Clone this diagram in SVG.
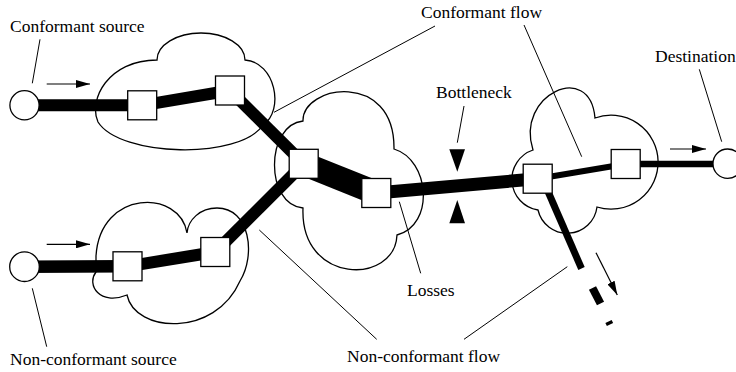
<svg xmlns="http://www.w3.org/2000/svg" width="736" height="372" viewBox="0 0 736 372">
<defs>
<style>
.cloud{fill:none;stroke:#000;stroke-width:1.3}
.box{fill:#fff;stroke:#000;stroke-width:1.3}
.src{fill:#fff;stroke:#000;stroke-width:1.3}
.flow{stroke:#000;fill:none;stroke-linecap:butt}
.lead{stroke:#000;stroke-width:1;fill:none}
.arr{stroke:#000;stroke-width:1.2;fill:none;marker-end:url(#ah)}
text{font-family:"Liberation Serif","Times New Roman",serif;font-size:17.5px;fill:#000}
</style>
<marker id="ah" markerWidth="14" markerHeight="8" refX="14" refY="4" orient="auto" markerUnits="userSpaceOnUse">
<path d="M0,0 L14,4 L0,8 Z" fill="#000"/>
</marker>
</defs>
<rect width="736" height="372" fill="#fff"/>
<g id="clouds">
<path id="cloud1" class="cloud" d="M98,122 C88,100 108,60 157,60 A44 27 0 0 1 245,60 C275,62 285,110 263,125 C240,160 120,157 98,122 Z"/>
<path id="cloud2" class="cloud" d="M96,272 C86,285 100,306 127,295 C135,333 215,338 240,281 C256,255 250,208 217,208 C200,208 188,220 187,233 C180,189 100,189 96,256 Z"/>
<path id="cloud3" class="cloud" d="M303,121 C302,85 395,70 394,149 C430,160 435,225 397,235 C395,285 300,285 303,208 C265,205 265,125 303,121 Z"/>
<path id="cloud4" class="cloud" d="M533,150 C515,95 590,60 595,118 A47 47 0 1 1 597,207 A30 30 0 0 1 538,210 A31 31 0 0 1 533,150 Z"/>
</g>
<g id="connectors">
<line class="flow" x1="24.5" y1="105.3" x2="142" y2="105.3" stroke-width="12"/>
<line class="flow" x1="142" y1="105.3" x2="230" y2="90.5" stroke-width="12"/>
<line class="flow" x1="230" y1="90.5" x2="303.7" y2="163.8" stroke-width="12"/>
<line class="flow" x1="24.5" y1="266.7" x2="127.5" y2="266.3" stroke-width="12.5"/>
<line class="flow" x1="127.5" y1="266.3" x2="215.3" y2="252" stroke-width="12"/>
<line class="flow" x1="215.3" y1="252" x2="303.7" y2="163.8" stroke-width="12"/>
<line class="flow" x1="303.7" y1="163.8" x2="376.3" y2="193" stroke-width="24"/>
<line class="flow" x1="376.3" y1="193" x2="537.7" y2="178.7" stroke-width="13"/>
<line class="flow" x1="537.7" y1="178.7" x2="625.7" y2="164" stroke-width="6"/>
<line class="flow" x1="625.7" y1="164" x2="713" y2="164" stroke-width="6.5"/>
<line class="flow" x1="543" y1="180" x2="581.5" y2="268.5" stroke-width="7"/>
<line class="flow" x1="592.5" y1="288" x2="600.5" y2="303.5" stroke-width="8"/>
<line class="flow" x1="608.5" y1="321.5" x2="610" y2="324.5" stroke-width="7"/>
<line class="arr" x1="46.7" y1="84" x2="90" y2="84"/>
<line class="arr" x1="46.7" y1="244.3" x2="90" y2="244.3"/>
<line class="arr" x1="670" y1="149" x2="706" y2="149"/>
<line class="arr" x1="596" y1="252.7" x2="617.3" y2="295"/>
<line class="lead" x1="40" y1="39.3" x2="32.3" y2="83.3"/>
<line class="lead" x1="32.3" y1="288.3" x2="46.7" y2="346.7"/>
<line class="lead" x1="435" y1="26" x2="274" y2="112.3"/>
<line class="lead" x1="524" y1="25" x2="581.7" y2="156.7"/>
<line class="lead" x1="464" y1="106" x2="457.3" y2="142.7"/>
<line class="lead" x1="699.3" y1="69.3" x2="721.7" y2="141.7"/>
<line class="lead" x1="399.3" y1="201.7" x2="420.7" y2="273.3"/>
<line class="lead" x1="259.3" y1="230" x2="376.7" y2="339.3"/>
<line class="lead" x1="567.3" y1="266.7" x2="464" y2="339.3"/>
</g>
<g id="bottleneck">
<path d="M449.3,149.3 L465,149.3 L457.3,171.7 Z" fill="#000"/>
<path d="M449.3,223.3 L465,223.3 L457.3,200 Z" fill="#000"/>
</g>
<g id="src-conformant"><circle class="src" cx="24.5" cy="105.3" r="14.6"/></g>
<g id="src-nonconformant"><circle class="src" cx="24.5" cy="266.7" r="14.8"/></g>
<g id="destination"><circle class="src" cx="727.7" cy="163.7" r="14.7"/></g>
<g id="r1"><rect class="box" x="127.7" y="90.8" width="29" height="29"/></g>
<g id="r2"><rect class="box" x="215.5" y="76" width="29" height="29"/></g>
<g id="r3"><rect class="box" x="289.2" y="149.3" width="29" height="29"/></g>
<g id="r4"><rect class="box" x="361.8" y="178.5" width="29" height="29"/></g>
<g id="r5"><rect class="box" x="523.2" y="164.2" width="29" height="29"/></g>
<g id="r6"><rect class="box" x="611.2" y="149.5" width="29" height="29"/></g>
<g id="r7"><rect class="box" x="113" y="251.8" width="29" height="29"/></g>
<g id="r8"><rect class="box" x="200.8" y="237.5" width="29" height="29"/></g>
<g id="labels">
<text x="10" y="32.3">Conformant source</text>
<text x="421" y="18.3">Conformant flow</text>
<text x="436" y="98.3">Bottleneck</text>
<text x="655" y="61.7">Destination</text>
<text x="407" y="296">Losses</text>
<text x="347" y="361.7">Non-conformant flow</text>
<text x="10" y="365">Non-conformant source</text>
</g>
</svg>
